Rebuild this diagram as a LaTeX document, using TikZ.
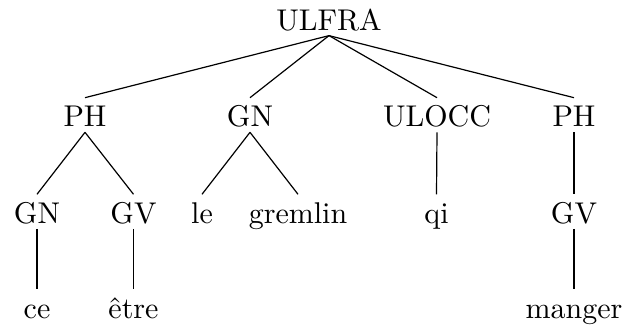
\documentclass[tikz,border=0pt]{standalone}
\begin{document}
\begin{tikzpicture}[x=0.3333pt,y=-0.3333pt,
  lbl/.style={anchor=base,inner xsep=0pt,inner ysep=1.67pt,text height=7.8pt,text depth=0pt},
  edge/.style={draw=black,line width=0.4pt}]
\useasboundingbox (0,0) rectangle (624,326);
\node[lbl] (root) at (329,30) {ULFRA};
\node[lbl] (ph1) at (85,126.7) {PH};
\node[lbl] (gn1) at (250,126.7) {GN};
\node[lbl] (ulocc) at (437,126.7) {ULOCC};
\node[lbl] (ph2) at (574,126.7) {PH};
\node[lbl] (gn2) at (37,223.3) {GN};
\node[lbl] (gv1) at (133.5,223.3) {GV};
\node[lbl] (le) at (202,223.3) {le};
\node[lbl] (gremlin) at (298,223.3) {gremlin};
\node[lbl] (qi) at (436.5,223.3) {qi};
\node[lbl] (gv2) at (574,223.3) {GV};
\node[lbl] (ce) at (37,318.3) {ce};
\node[lbl] (etre) at (133.5,318.3) {être};
\node[lbl] (manger) at (574,318.3) {manger};
\foreach \p/\c in {root/ph1,root/gn1,root/ulocc,root/ph2,ph1/gn2,ph1/gv1,gn1/le,gn1/gremlin,ulocc/qi,ph2/gv2,gn2/ce,gv1/etre,gv2/manger}
  \draw[edge] (\p.south) -- (\c.north);
\end{tikzpicture}
\end{document}
